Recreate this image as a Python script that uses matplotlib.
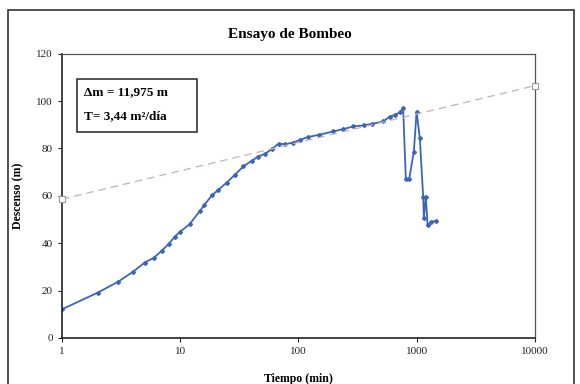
import numpy as np
import matplotlib.pyplot as plt
from matplotlib.patches import Rectangle

# tiempo (min) y descenso (m) medidos en el pozo
tiempo = [1, 2, 3, 4, 5, 6, 7, 8, 9, 10, 12, 14.7, 16, 18.7, 21, 24.7, 29, 34.2,
          40.3, 45.7, 52, 59.3, 68, 77.6, 90, 103, 120, 150, 197, 240, 291,
          360, 420, 521, 594, 660, 721, 770, 811, 865, 948, 1000, 1065,
          1137, 1152, 1198, 1238, 1337, 1455]
descenso = [12.1, 19.1, 23.8, 28, 31.8, 33.9, 36.9, 39.7, 42.8, 44.9, 48, 53.7,
            56.2, 60.4, 62.5, 65.6, 68.9, 72.4, 74.8, 76.6, 77.7, 79.7, 82,
            81.8, 82.5, 83.6, 84.8, 85.8, 87.2, 88.2, 89.3, 89.8, 90.4, 91.4,
            93.5, 94.2, 95.2, 97, 67, 67, 78.7, 95.6, 84.4, 59.7, 50.6, 59.7,
            47.7, 49.1, 49.4]

# recta de Jacob: s = s1 + dm * log10(t)
delta_m = 11.975
s1 = 58.6
t_recta = [1, 10000]
s_recta = [s1 + delta_m * np.log10(t) for t in t_recta]

serif = "Liberation Serif"

fig = plt.figure(figsize=(5.8, 3.84), dpi=100)
ax = fig.add_axes([0.107, 0.120, 0.815, 0.740])

ax.plot(t_recta, s_recta, linestyle=(0, (6, 4)), color="#c9b0b0", lw=0.9,
        marker="s", markersize=5, markerfacecolor="white",
        markeredgecolor="#999999", markeredgewidth=0.8, clip_on=False, zorder=3)
ax.plot(tiempo, descenso, color="#3a66b8", lw=1.3, marker="D",
        markersize=2, markerfacecolor="#3a66b8", markeredgecolor="#3a66b8")

ax.set_xscale("log")
ax.set_xlim(1, 10000)
ax.set_ylim(0, 120)
ax.set_yticks(range(0, 121, 20))
ax.set_xticks([1, 10, 100, 1000, 10000])
ax.set_xticklabels(["1", "10", "100", "1000", "10000"])
ax.minorticks_off()
ax.tick_params(direction="out", length=3, width=0.8, labelsize=8, colors="#222222")
for lab in ax.get_xticklabels() + ax.get_yticklabels():
    lab.set_fontfamily(serif)
for side in ["left", "bottom"]:
    ax.spines[side].set_color("#222222")
    ax.spines[side].set_linewidth(1.2)
for side in ["top", "right"]:
    ax.spines[side].set_color("#555555")
    ax.spines[side].set_linewidth(0.9)

ax.set_xlabel("Tiempo (min)", fontfamily=serif, fontweight="bold", fontsize=8.5)
ax.set_ylabel("Descenso (m)", fontfamily=serif, fontweight="bold", fontsize=8.5)
ax.xaxis.set_label_coords(0.5, -0.125)
ax.yaxis.set_label_coords(-0.08, 0.5)
fig.text(0.5, 0.91, "Ensayo de Bombeo", ha="center", va="center",
         fontfamily=serif, fontweight="bold", fontsize=11)

# cuadro con los resultados de la recta
ax.add_patch(Rectangle((0.032, 0.725), 0.253, 0.187, transform=ax.transAxes,
                       facecolor="white", edgecolor="#222222", linewidth=1.1, zorder=4))
ax.text(0.047, 0.866, "\u0394m = 11,975 m", transform=ax.transAxes, ha="left",
        va="center", fontfamily=serif, fontweight="bold", fontsize=9.5, zorder=5)
ax.text(0.047, 0.782, "T= 3,44 m\u00b2/día", transform=ax.transAxes, ha="left",
        va="center", fontfamily=serif, fontweight="bold", fontsize=9.5, zorder=5)

# marco exterior del grafico
fig.patches.append(Rectangle((0.014, -0.02), 0.975, 0.994, transform=fig.transFigure,
                             fill=False, edgecolor="#333333", linewidth=1.2))

fig.savefig("out.png", dpi=100)
